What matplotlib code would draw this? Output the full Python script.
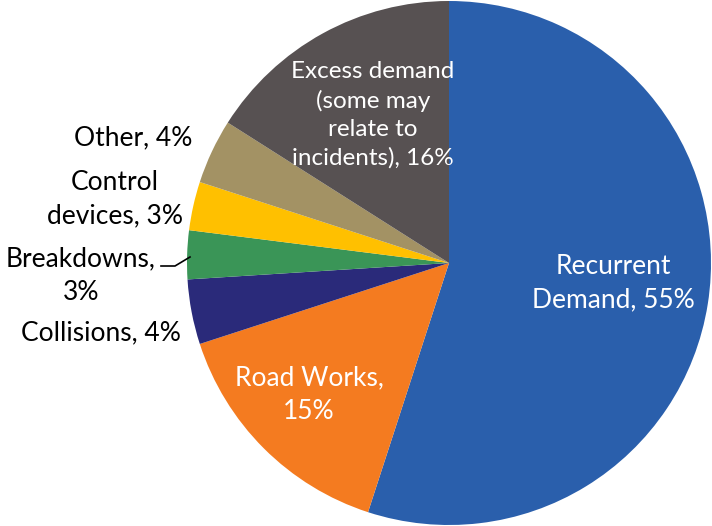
import matplotlib.pyplot as plt

# Causes of congestion, share of total delay (%)
causes = ["Recurrent Demand", "Road Works", "Collisions", "Breakdowns",
          "Control devices", "Other", "Excess demand"]
shares = [55, 15, 4, 3, 3, 4, 16]
colors = ["#2A5FAC", "#F47B20", "#2A2A7A", "#3A9557",
          "#FFC000", "#A39264", "#575152"]


def main():
    plt.rcParams['font.family'] = ['Lato', 'DejaVu Sans']
    fig = plt.figure(figsize=(7.12, 5.26), dpi=100)
    ax = fig.add_axes([0, 0, 1, 1])

    ax.pie(shares, colors=colors, startangle=90, counterclock=False,
           center=(449, 263), radius=262, frame=True,
           wedgeprops=dict(linewidth=0))
    ax.set_xlim(0, 712)
    ax.set_ylim(0, 526)
    ax.set_aspect('equal')
    ax.axis('off')

    def label(x, y, s, color="black", fs=19):
        ax.text(x, 526 - y, s, color=color, fontsize=fs, ha='center',
                va='center', linespacing=1.42)

    label(613, 283, f"Recurrent\nDemand, {shares[0]}%", "white")
    label(309, 395, f"{causes[1]},\n{shares[1]}%", "white")
    label(101, 333, f"{causes[2]}, {shares[2]}%")
    label(81, 276, f"{causes[3]},\n{shares[3]}%")
    label(115, 199, f"Control\ndevices, {shares[4]}%")
    label(133, 138, f"{causes[5]}, {shares[5]}%")
    label(373, 115, f"{causes[6]}\n(some may\nrelate to\nincidents), {shares[6]}%",
          "white", fs=17.5)

    # leader line for the small Breakdowns slice
    ax.plot([161, 175, 190], [526 - 266, 526 - 266, 526 - 257],
            color="black", linewidth=1.2)

    fig.savefig("out.png", dpi=100)


if __name__ == "__main__":
    main()
